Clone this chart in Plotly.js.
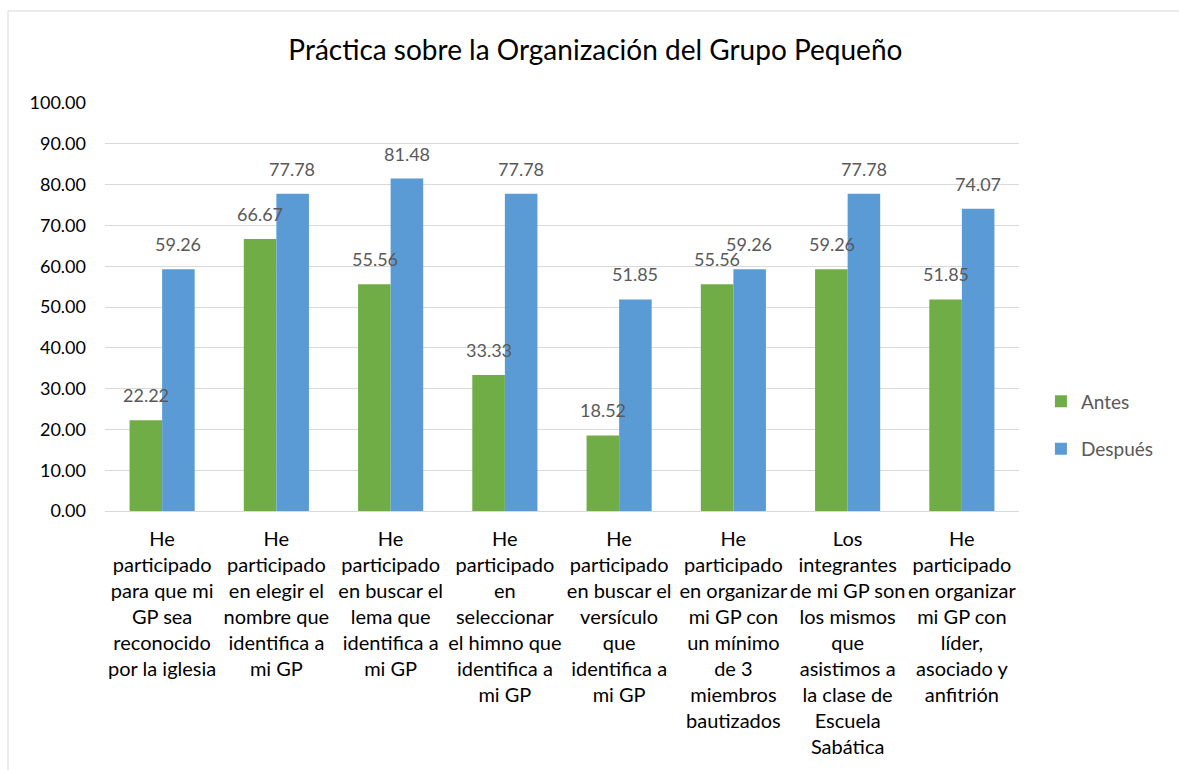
<!DOCTYPE html>
<html>
<head>
<meta charset="utf-8">
<script src="https://cdn.plot.ly/plotly-3.0.1.min.js"></script>
<style>html,body{margin:0;padding:0;background:#fff;}#chart{width:1179px;height:770px;}</style>
</head>
<body>
<div id="chart"></div>
<script>
const categories = [
  "He<br>participado<br>para que mi<br>GP sea<br>reconocido<br>por la iglesia",
  "He<br>participado<br>en elegir el<br>nombre que<br>identifica a<br>mi GP",
  "He<br>participado<br>en buscar el<br>lema que<br>identifica a<br>mi GP",
  "He<br>participado<br>en<br>seleccionar<br>el himno que<br>identifica a<br>mi GP",
  "He<br>participado<br>en buscar el<br>versículo<br>que<br>identifica a<br>mi GP",
  "He<br>participado<br>en organizar<br>mi GP con<br>un mínimo<br>de 3<br>miembros<br>bautizados",
  "Los<br>integrantes<br>de mi GP son<br>los mismos<br>que<br>asistimos a<br>la clase de<br>Escuela<br>Sabática",
  "He<br>participado<br>en organizar<br>mi GP con<br>líder,<br>asociado y<br>anfitrión"
];
const antes   = [22.22, 66.67, 55.56, 33.33, 18.52, 55.56, 59.26, 51.85];
const despues = [59.26, 77.78, 81.48, 77.78, 51.85, 59.26, 77.78, 74.07];
const seriesNames = ["Antes", "Después"];
const colors = ["#70AD47", "#5B9BD5"];

const FONT = "Lato, 'Open Sans', sans-serif";
const xIdx = categories.map((c, i) => i);

const traces = [antes, despues].map((vals, s) => ({
  type: "bar",
  name: seriesNames[s],
  legendgroup: "g" + s,
  x: xIdx,
  y: vals,
  marker: {color: colors[s]},
  hoverinfo: "y"
}));

const annotations = [];
[antes, despues].forEach((vals, s) => {
  vals.forEach((v, i) => {
    annotations.push({
      x: i, y: v, xref: "x", yref: "y",
      text: v.toFixed(2),
      showarrow: false,
      xshift: s === 0 ? -16 : 16,
      yshift: 25,
      yanchor: "middle",
      font: {family: FONT, size: 18, color: "#595959"}
    });
  });
});

const layout = {
  width: 1179, height: 770,
  margin: {l: 105, r: 160, t: 103, b: 259},
  paper_bgcolor: "#fff", plot_bgcolor: "#fff",
  title: {
    text: "Práctica sobre la Organización del Grupo Pequeño",
    font: {family: FONT, size: 28, color: "#000"},
    x: 0.505, xref: "container", xanchor: "center",
    y: 0.935, yref: "container", yanchor: "middle"
  },
  barmode: "group",
  bargap: 0.43,
  bargroupgap: 0,
  xaxis: {
    tickmode: "array",
    tickvals: xIdx,
    ticktext: categories,
    range: [-0.5, categories.length - 0.5],
    showline: true, linecolor: "#d9d9d9", linewidth: 1,
    ticks: "", showgrid: false,
    ticklabelstandoff: 10,
    tickfont: {family: FONT, size: 20, color: "#000"},
    tickangle: 0
  },
  yaxis: {
    range: [0, 100], dtick: 10, tick0: 0,
    tickformat: ".2f",
    showgrid: true, gridcolor: "#d9d9d9", gridwidth: 1,
    zeroline: false, showline: false, ticks: "",
    ticklabelstandoff: 18,
    tickfont: {family: FONT, size: 18, color: "#000"}
  },
  legend: {
    x: 1.024, xanchor: "left",
    y: 0.21, yanchor: "middle",
    font: {family: FONT, size: 19, color: "#595959"},
    tracegroupgap: 20,
    traceorder: "grouped"
  },
  annotations: annotations,
  shapes: [{
    type: "rect", xref: "paper", yref: "paper",
    x0: (8 - 105) / 914, x1: 1.2,
    y0: -1, y1: 1 + (103 - 11) / 408,
    line: {color: "#d9d9d9", width: 1},
    fillcolor: "rgba(0,0,0,0)", layer: "below"
  }]
};

Plotly.newPlot("chart", traces, layout, {displayModeBar: false, staticPlot: true});
</script>
</body>
</html>
